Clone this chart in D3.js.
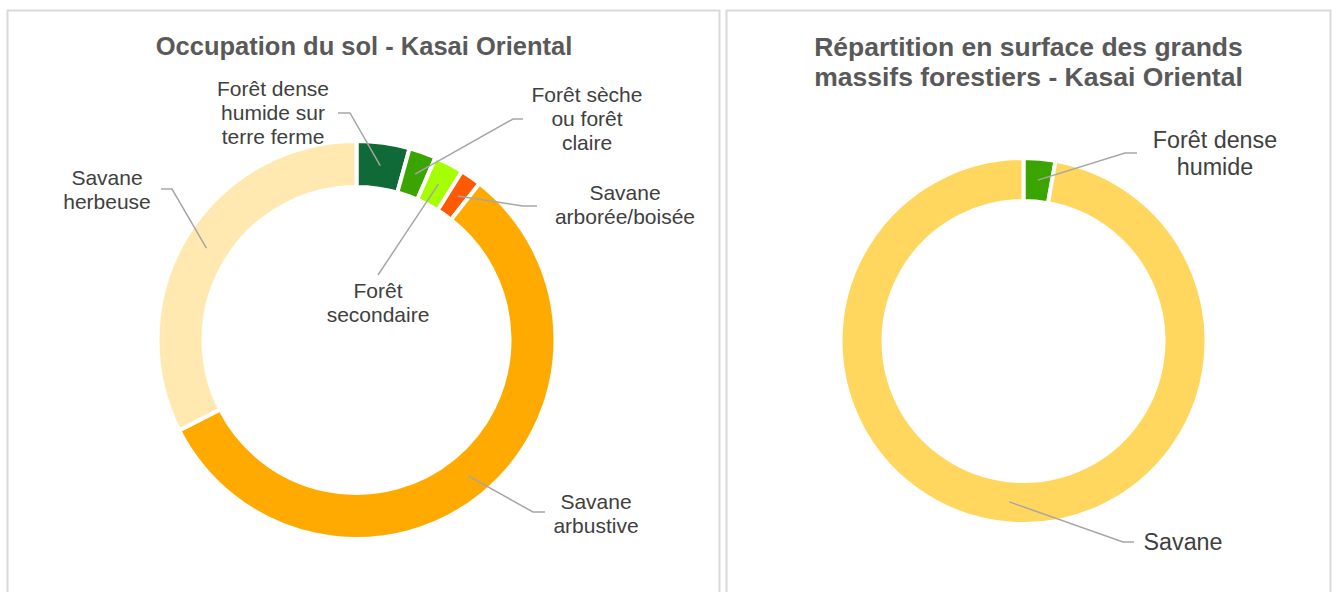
<!DOCTYPE html>
<html>
<head>
<meta charset="utf-8">
<script src="https://cdn.jsdelivr.net/npm/d3@7"></script>
<style>
  body { margin: 0; background: #fff; }
  text { font-family: Arial, "Liberation Sans", sans-serif; }
</style>
</head>
<body>
<svg id="chart" width="1333" height="592"></svg>
<script>
// left chart data
const leftCategories = ["Forêt dense humide sur terre ferme", "Forêt sèche ou forêt claire", "Forêt secondaire",
    "Savane arborée/boisée", "Savane arbustive", "Savane herbeuse"];
const leftValues = [4.3, 2.2, 2.4, 1.7, 56.9, 32.5];
const leftColors = ["#0F6A37", "#3AA500", "#A6FF00", "#FF5A00", "#FFAA00", "#FFE9B0"];
const leftLabelLines = [["Forêt dense", "humide sur", "terre ferme"], ["Forêt sèche", "ou forêt", "claire"],
    ["Forêt", "secondaire"], ["Savane", "arborée/boisée"], ["Savane", "arbustive"], ["Savane", "herbeuse"]];

// right chart data
const rightCategories = ["Forêt dense humide", "Savane"];
const rightValues = [2.8, 97.2];
const rightColors = ["#3AA500", "#FFD75E"];
const rightLabelLines = [["Forêt dense", "humide"], ["Savane"]];

// label placement (text centre, first baseline, leader start, elbow length)
const leftLabelPos = [
    {x: 273, y: 96, lx: 338, ly: 113, elbow: 12},
    {x: 587, y: 102, lx: 523, ly: 119, elbow: -10},
    {x: 378, y: 298, lx: 378, ly: 275, elbow: 0},
    {x: 625, y: 200, lx: 537, ly: 206, elbow: -14},
    {x: 596, y: 509, lx: 545, ly: 512, elbow: -12},
    {x: 107, y: 185, lx: 161, ly: 189, elbow: 11}
];
const rightLabelPos = [
    {x: 1215, y: 148, lx: 1137, ly: 153, elbow: -12},
    {x: 1183, y: 550, lx: 1134, ly: 542, elbow: -11}
];

const svg = d3.select("#chart");

// panel frames
svg.append("rect").attr("x", 7.5).attr("y", 10.5).attr("width", 712).attr("height", 600)
    .attr("fill", "none").attr("stroke", "#D9D9D9").attr("stroke-width", 2);
svg.append("rect").attr("x", 726.5).attr("y", 10.5).attr("width", 604).attr("height", 600)
    .attr("fill", "none").attr("stroke", "#D9D9D9").attr("stroke-width", 2);

function drawDonut(opts) {
    let g = svg.append("g").attr("transform", `translate(${opts.cx}, ${opts.cy})`);
    let pie = d3.pie().sort(null).value(d => d.value);
    let arc = d3.arc().innerRadius(opts.inner).outerRadius(opts.outer);
    let mid = d3.arc().innerRadius((opts.inner + opts.outer) / 2).outerRadius((opts.inner + opts.outer) / 2);

    let data = opts.categories.map((c, i) => ({name: c, value: opts.values[i], color: opts.colors[i],
        lines: opts.lines[i], pos: opts.pos[i]}));
    let arcs = pie(data);

    g.selectAll("path").data(arcs).enter()
        .append("path")
        .attr("d", arc)
        .attr("fill", d => d.data.color)
        .attr("stroke", "#fff")
        .attr("stroke-width", 4);

    // leader lines
    arcs.forEach(function(d) {
        let c = mid.centroid(d);
        let p = d.data.pos;
        let pts = [[p.lx, p.ly], [p.lx + p.elbow, p.ly], [opts.cx + c[0], opts.cy + c[1]]];
        svg.append("path")
            .attr("d", d3.line()(pts))
            .attr("fill", "none")
            .attr("stroke", "#A6A6A6")
            .attr("stroke-width", 1.5);
    });

    // labels
    arcs.forEach(function(d) {
        let p = d.data.pos;
        let t = svg.append("text")
            .attr("text-anchor", "middle")
            .style("font-size", opts.labelSize + "px")
            .attr("fill", "#404040");
        d.data.lines.forEach(function(l, i) {
            t.append("tspan").attr("x", p.x).attr("y", p.y + i * opts.lineH).text(l);
        });
    });

    let title = svg.append("text")
        .attr("text-anchor", "middle")
        .style("font-size", opts.titleSize + "px")
        .style("font-weight", "bold")
        .attr("fill", "#595959");
    opts.title.forEach(function(l, i) {
        title.append("tspan").attr("x", opts.titleX).attr("y", opts.titleY + i * 30).text(l);
    });
}

drawDonut({
    cx: 356.5, cy: 340, outer: 199, inner: 153,
    categories: leftCategories, values: leftValues, colors: leftColors,
    lines: leftLabelLines, pos: leftLabelPos,
    labelSize: 21, lineH: 24,
    title: ["Occupation du sol - Kasai Oriental"], titleX: 364, titleY: 55, titleSize: 25.5
});

drawDonut({
    cx: 1023.5, cy: 341, outer: 183, inner: 140,
    categories: rightCategories, values: rightValues, colors: rightColors,
    lines: rightLabelLines, pos: rightLabelPos,
    labelSize: 23.3, lineH: 27,
    title: ["Répartition en surface des grands", "massifs forestiers - Kasai Oriental"],
    titleX: 1028.5, titleY: 56, titleSize: 26.5
});
</script>
</body>
</html>
